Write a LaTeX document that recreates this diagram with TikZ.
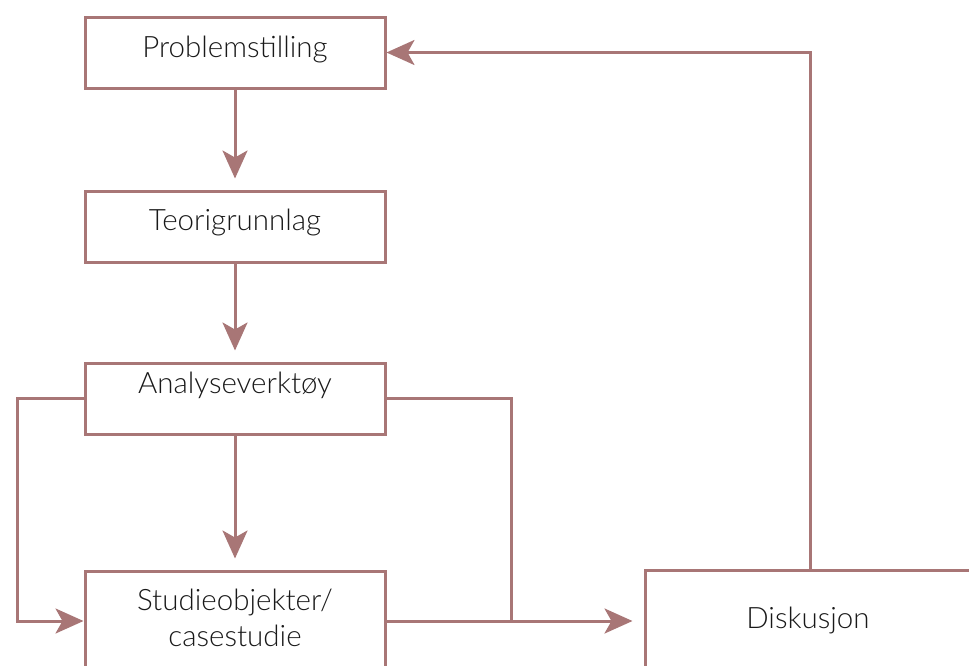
\documentclass[tikz,border=0pt]{standalone}
\usepackage{fontspec}
\setmainfont{Lato Light}
\usetikzlibrary{arrows.meta}
\definecolor{rose}{RGB}{168,118,118}
\tikzset{
  box/.style={draw=rose, line width=3pt, rectangle, inner sep=0pt},
  lbl/.style={font=\fontsize{29.5}{36}\selectfont, text=black!90, align=center, inner sep=0pt},
  conn/.style={draw=rose, line width=3pt, -{Stealth[length=28pt,width=25pt,inset=7pt]}},
  line/.style={draw=rose, line width=3pt}
}
\begin{document}
\begin{tikzpicture}[x=1pt,y=-1pt]
\clip (0,0) rectangle (969,665);
\useasboundingbox (0,0) rectangle (969,665);
\node[box, minimum width=300pt, minimum height=71pt] (P) at (235,52.5) {};
\node[lbl] (Pt) at (235,50) {Problemstilling};
\node[box, minimum width=300pt, minimum height=71pt] (T) at (235,226.5) {};
\node[lbl] (Tt) at (235,222) {Teorigrunnlag};
\node[box, minimum width=300pt, minimum height=71pt] (A) at (235,398.5) {};
\node[lbl] (At) at (235,385) {Analyseverktøy};
\node[box, minimum width=300pt, minimum height=140pt] (S) at (235,641) {};
\node[lbl] (St) at (235,618) {Studieobjekter/\\casestudie};
\node[box, minimum width=360pt, minimum height=140pt] (D) at (825,640) {};
\node[lbl] (Dt) at (808,620) {Diskusjon};
\coordinate (dx) at (810,0);
\coordinate (lx) at (17,0);
\coordinate (rx) at (511,0);
\coordinate (sy) at (0,621);
\draw[conn, shorten >=11pt] (P.south) -- (T.north);
\draw[conn, shorten >=11pt] (T.south) -- (A.north);
\draw[conn, shorten >=11pt] (A.south) -- (S.north);
\draw[conn] (D.north -| dx) |- (P.east);
\draw[conn] (A.west) -| (lx |- sy) -- (S.west |- sy);
\draw[line] (A.east) -| (rx |- sy);
\draw[conn, shorten >=11pt] (S.east |- sy) -- (D.west |- sy);
\end{tikzpicture}
\end{document}
